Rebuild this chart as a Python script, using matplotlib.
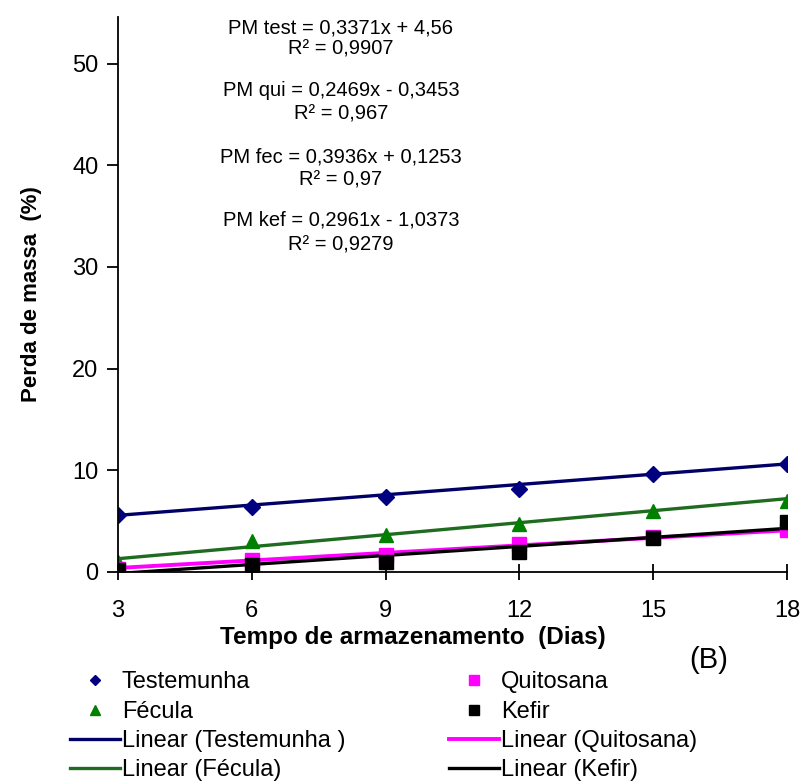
import matplotlib
matplotlib.use('Agg')
import matplotlib.pyplot as plt
import numpy as np

plt.rcParams['font.family'] = ['Liberation Sans', 'DejaVu Sans']

dias = [3, 6, 9, 12, 15, 18]
testemunha = [5.6, 6.4, 7.4, 8.2, 9.6, 10.6]
quitosana = [0.3, 1.2, 1.7, 2.8, 3.4, 4.1]
fecula = [1.0, 3.0, 3.6, 4.7, 6.0, 7.0]
kefir = [0.2, 0.7, 1.0, 2.0, 3.3, 4.9]

# trendline coefficients (slope, intercept) as printed on the chart
coef_test = (0.3371, 4.56)
coef_qui = (0.2469, -0.3453)
coef_fec = (0.3936, 0.1253)
coef_kef = (0.2961, -1.0373)
eq_labels = ['PM test = 0,3371x + 4,56', 'PM qui = 0,2469x - 0,3453',
             'PM fec = 0,3936x + 0,1253', 'PM kef = 0,2961x - 1,0373']
r2_labels = ['R² = 0,9907', 'R² = 0,967', 'R² = 0,97', 'R² = 0,9279']

fig = plt.figure(figsize=(8.08, 7.83), dpi=100)
ax = fig.add_axes([0.146, 0.2695, 0.828, 0.709])

xs = np.array(dias, dtype=float)

def trend(c):
    return c[0] * xs + c[1]

# trendlines
l_test, = ax.plot(xs, trend(coef_test), color='#000066', lw=2.4, label='Linear (Testemunha )')
l_fec, = ax.plot(xs, trend(coef_fec), color='#1f6b1f', lw=2.4, label='Linear (Fécula)')
l_qui, = ax.plot(xs, trend(coef_qui), color='#ff00ff', lw=2.8, label='Linear (Quitosana)')
l_kef, = ax.plot(xs, trend(coef_kef), color='#000000', lw=2.4, label='Linear (Kefir)')

# points
p_test, = ax.plot(dias, testemunha, 'D', color='#000080', ms=8, ls='none', label='Testemunha')
p_fec, = ax.plot(dias, fecula, '^', color='#008000', ms=10, ls='none', label='Fécula')
p_qui, = ax.plot(dias, quitosana, 's', color='#ff00ff', ms=10, ls='none', label='Quitosana')
p_kef, = ax.plot(dias, kefir, 's', color='#000000', ms=10, ls='none', label='Kefir')

ax.set_xlim(3, 18)
ax.set_ylim(0, 54.6)
ax.set_xticks(dias)
ax.set_yticks([0, 10, 20, 30, 40, 50])
ax.spines['top'].set_visible(False)
ax.spines['right'].set_visible(False)
ax.spines['left'].set_linewidth(1.3)
ax.spines['bottom'].set_linewidth(1.3)
ax.tick_params(axis='x', direction='inout', length=12, width=1.3, labelsize=17, pad=14)
ax.tick_params(axis='y', direction='out', length=8, width=1.3, labelsize=17, pad=6)

ax.set_xlabel('Tempo de armazenamento  (Dias)', fontsize=17.5, fontweight='bold')
ax.xaxis.set_label_coords(0.441, -0.098)
ax.set_ylabel('Perda de massa  (%)', fontsize=16, fontweight='bold', labelpad=22)

eq_px = [28, 90, 157, 220]
r2_px = [49, 114, 180, 245]
for lab, py in zip(eq_labels, eq_px):
    fig.text(0.422, 1 - py / 783, lab, ha='center', va='center', fontsize=14.5)
for lab, py in zip(r2_labels, r2_px):
    fig.text(0.422, 1 - py / 783, lab, ha='center', va='center', fontsize=14.5)

fig.text(0.853, 1 - 660 / 783, '(B)', fontsize=21, ha='left', va='center')

handles = [p_test, p_fec, l_test, l_fec, p_qui, p_kef, l_qui, l_kef]
fig.legend(handles=handles, labels=[h.get_label() for h in handles], ncol=2,
           loc='upper left', bbox_to_anchor=(0.075, 1 - 662 / 783), frameon=False,
           fontsize=17, handlelength=2.1, handletextpad=0.1, labelspacing=0.31,
           columnspacing=4.4, borderaxespad=0, markerscale=0.7)

fig.savefig('out.png', dpi=100)
